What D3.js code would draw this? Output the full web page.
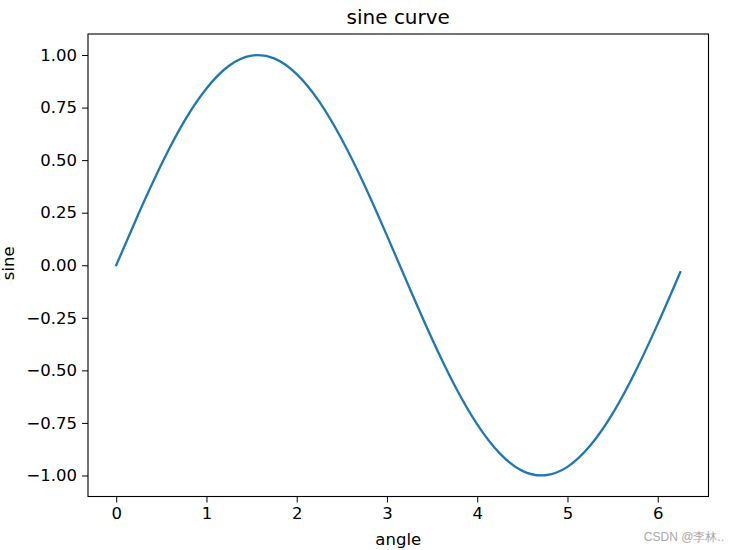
<!DOCTYPE html>
<html>
<head>
<meta charset="utf-8">
<script src="https://cdn.jsdelivr.net/npm/d3@7"></script>
<style>
  body { margin: 0; background: #fff; }
  text { font-family: "DejaVu Sans", sans-serif; fill: #000; }
  .axis path, .axis line { stroke: #000; }
</style>
</head>
<body>
<svg id="chart"></svg>
<script>
var viewWidth = 734;
var viewHeight = 550;

// values
var angles = [0, 0.25, 0.5, 0.75, 1.0, 1.25, 1.5, 1.75, 2.0, 2.25, 2.5, 2.75, 3.0,
  3.25, 3.5, 3.75, 4.0, 4.25, 4.5, 4.75, 5.0, 5.25, 5.5, 5.75, 6.0, 6.25];
var sines = [0, 0.247, 0.479, 0.682, 0.841, 0.949, 0.997, 0.984, 0.909, 0.778, 0.598, 0.382, 0.141,
  -0.108, -0.351, -0.572, -0.757, -0.895, -0.978, -0.999, -0.959, -0.859, -0.706, -0.508, -0.279, -0.033];
var xTicks = [0, 1, 2, 3, 4, 5, 6];
var yTicks = [-1, -0.75, -0.5, -0.25, 0, 0.25, 0.5, 0.75, 1];

var margin = {top: 34, right: 25.5, bottom: 53.5, left: 88};
var width = viewWidth - margin.left - margin.right;
var height = viewHeight - margin.top - margin.bottom;

var svg = d3.select("#chart")
    .attr("width", viewWidth)
    .attr("height", viewHeight);

svg.append("rect")
    .attr("width", viewWidth)
    .attr("height", viewHeight)
    .attr("fill", "#fff");

var g = svg.append("g")
    .attr("transform", "translate(" + margin.left + "," + margin.top + ")");

var x = d3.scaleLinear()
  .domain([-0.3125, 6.5625])
  .range([0, width]);
var y = d3.scaleLinear()
  .domain([-1.1, 1.1])
  .range([height, 0]);

var data = angles.map(function(a, i) { return {x: a, y: sines[i]}; });

var line = d3.line()
  .x(function(d) { return x(d.x); })
  .y(function(d) { return y(d.y); })
  .curve(d3.curveNatural);

g.append("path")
    .datum(data)
    .attr("fill", "none")
    .attr("stroke", "#1f77b4")
    .attr("stroke-width", 2.3)
    .attr("stroke-linecap", "square")
    .attr("d", line);

var xAxis = d3.axisBottom(x)
  .tickValues(xTicks)
  .tickFormat(d3.format("d"))
  .tickSize(6)
  .tickPadding(5)
  .tickSizeOuter(0);
var yAxis = d3.axisLeft(y)
  .tickValues(yTicks)
  .tickFormat(d3.format(".2f"))
  .tickSize(6)
  .tickPadding(5)
  .tickSizeOuter(0);

g.append("g")
    .attr("class", "x axis")
    .attr("transform", "translate(0," + height + ")")
    .call(xAxis)
    .call(function(s) { s.select(".domain").remove(); })
    .selectAll("text")
    .style("font-size", "16.5px");

g.append("g")
    .attr("class", "y axis")
    .call(yAxis)
    .call(function(s) { s.select(".domain").remove(); })
    .selectAll("text")
    .style("font-size", "16.5px");

// frame
g.append("rect")
    .attr("width", width)
    .attr("height", height)
    .attr("fill", "none")
    .attr("stroke", "#000")
    .attr("stroke-width", 1.1);

svg.append("text")
    .attr("x", margin.left + width / 2)
    .attr("y", 24)
    .attr("text-anchor", "middle")
    .style("font-size", "20px")
    .text("sine curve");

svg.append("text")
    .attr("x", margin.left + width / 2)
    .attr("y", 545)
    .attr("text-anchor", "middle")
    .style("font-size", "16.5px")
    .text("angle");

svg.append("text")
    .attr("transform", "translate(14," + (margin.top + height / 2 - 2) + ") rotate(-90)")
    .attr("text-anchor", "middle")
    .style("font-size", "16.5px")
    .text("sine");

svg.append("text")
    .attr("x", 724)
    .attr("y", 541)
    .attr("text-anchor", "end")
    .style("font-family", "'Liberation Sans', sans-serif")
    .style("font-size", "12px")
    .style("fill", "#a8a8a8")
    .text("CSDN @李林..");
</script>
</body>
</html>
